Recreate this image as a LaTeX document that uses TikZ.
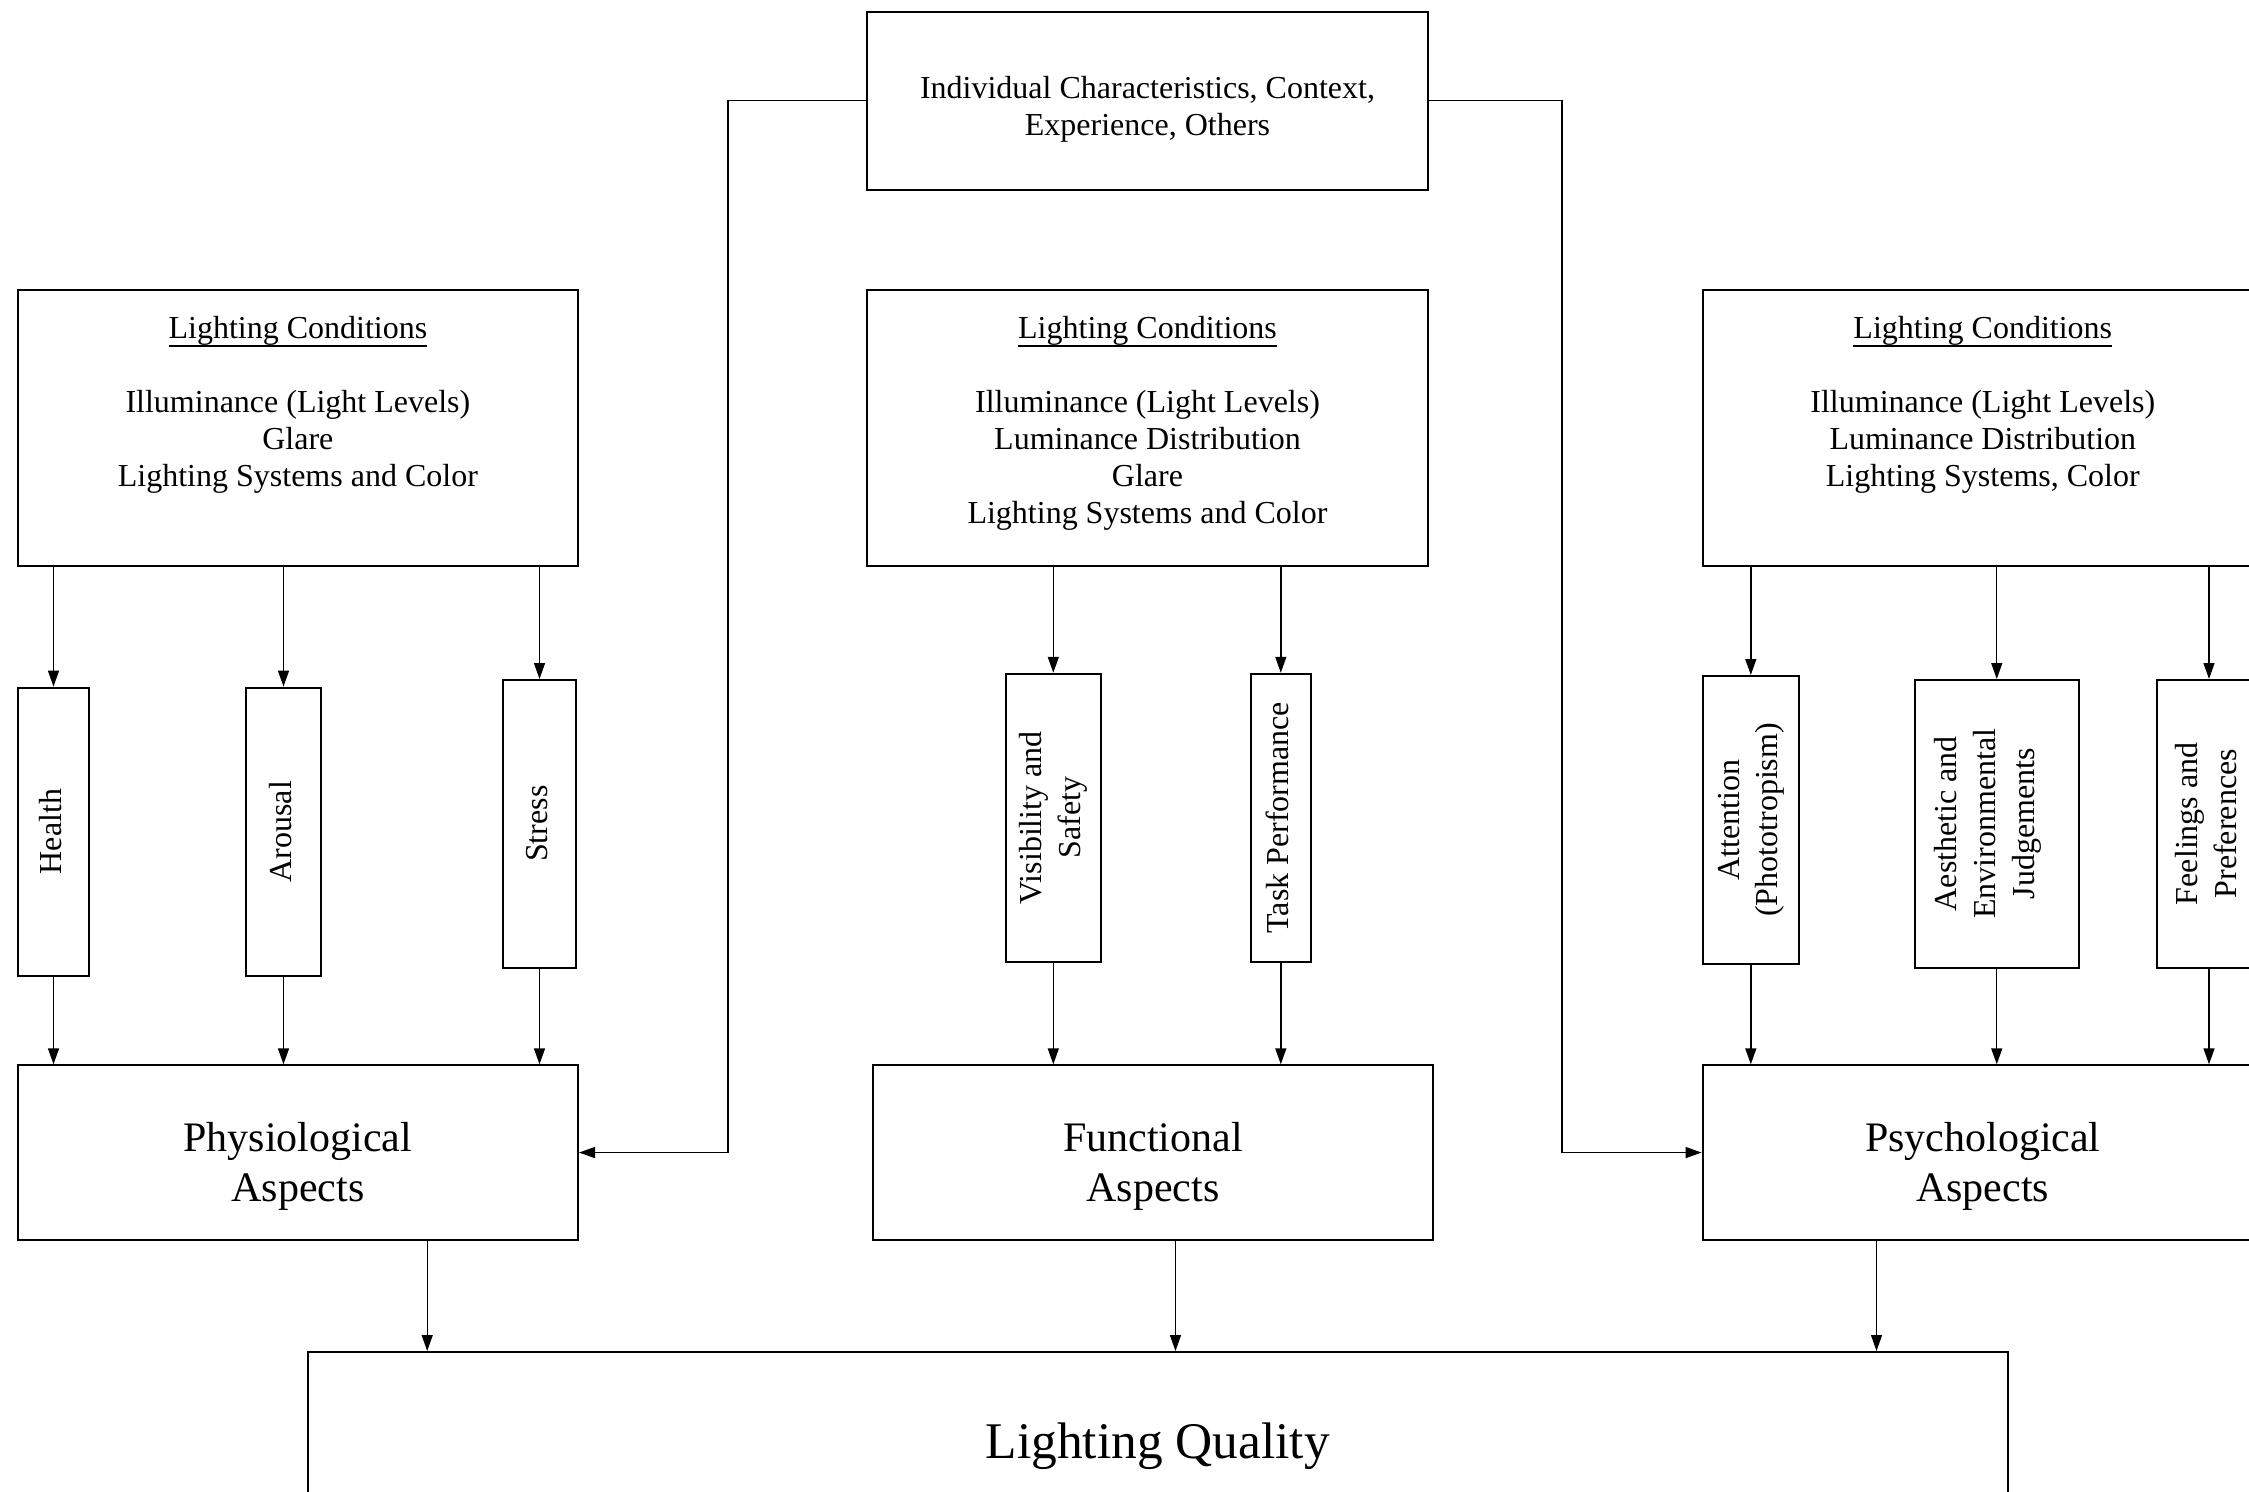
\documentclass[tikz,border=0pt]{standalone}
\usepackage{fontspec}
\setmainfont{Liberation Serif}
\usepackage{graphicx}
\usetikzlibrary{arrows.meta,calc}
\newsavebox\ulbox
\newcommand\uln[1]{\sbox\ulbox{#1}\rlap{\rule[-4.2pt]{\wd\ulbox}{0.8pt}}\usebox\ulbox}
\newcommand\vtxt[1]{\rotatebox{90}{\begin{tabular}{@{}c@{}}#1\end{tabular}}}
\begin{document}
\begin{tikzpicture}[x=0.5pt,y=-0.5pt,
  box/.style={draw, line width=1pt, inner sep=0pt, rectangle, anchor=north west},
  arr/.style={line width=0.7pt, -{Triangle[length=8pt,width=5.5pt]}},
  txt/.style={font=\fontsize{16}{18.5}\selectfont, align=center, inner sep=0pt},
  vt/.style={font=\fontsize{16}{19.3}\selectfont},
  big/.style={font=\fontsize{21}{25}\selectfont, align=center, inner sep=0pt},
  huge/.style={font=\fontsize{25.7}{30}\selectfont, align=center}]
\useasboundingbox (0,0) rectangle (2249,1492);
\clip (0,0) rectangle (2249,1492);

% top box
\node[box, minimum width=280.5pt, minimum height=88.95pt] (ind) at (866,10.7) {};
\node[txt] (indt) at ([yshift=-4.5pt]ind.center) {Individual Characteristics, Context,\\Experience, Others};

% lighting conditions boxes
\node[box, minimum width=280.1pt, minimum height=138pt] (lc1) at (16.8,289) {};
\node[box, minimum width=280.5pt, minimum height=138pt] (lc2) at (866,289) {};
\node[box, minimum width=280.2pt, minimum height=138pt] (lc3) at (1701.6,289) {};
\node[txt, anchor=north] (lc1t) at ([yshift=-13.5pt]lc1.north) {\uln{Lighting Conditions}\\[18.5pt]Illuminance (Light Levels)\\Glare\\Lighting Systems and Color};
\node[txt, anchor=north] (lc2t) at ([yshift=-13.5pt]lc2.north) {\uln{Lighting Conditions}\\[18.5pt]Illuminance (Light Levels)\\Luminance Distribution\\Glare\\Lighting Systems and Color};
\node[txt, anchor=north] (lc3t) at ([yshift=-13.5pt]lc3.north) {\uln{Lighting Conditions}\\[18.5pt]Illuminance (Light Levels)\\Luminance Distribution\\Lighting Systems, Color};

% vertical factor boxes
\node[box, vt, minimum width=35.5pt, minimum height=144pt] (health) at (17,686.6) {\vtxt{Health}};
\node[box, vt, minimum width=37.5pt, minimum height=144pt] (arousal) at (245,686.6) {\vtxt{Arousal}};
\node[box, vt, minimum width=36.5pt, minimum height=143.75pt] (stress) at (502,679) {\vtxt{Stress}};
\node[box, vt, minimum width=47.7pt, minimum height=143.95pt] (vis) at (1004.6,672.8) {\vtxt{Visibility and\\Safety}};
\node[box, vt, minimum width=29.8pt, minimum height=143.95pt] (task) at (1250,672.8) {\vtxt{Task Performance}};
\node[box, vt, minimum width=48.2pt, minimum height=144pt] (att) at (1701.6,675) {\vtxt{Attention\\(Phototropism)}};
\node[box, vt, minimum width=81.75pt, minimum height=143.75pt] (aes) at (1914,679) {\vtxt{Aesthetic and\\Environmental\\Judgements}\hspace*{9pt}};
\node[box, vt, minimum width=52pt, minimum height=143.75pt] (feel) at (2156,679) {\vtxt{Feelings and\\Preferences}};

% aspects boxes
\node[box, minimum width=280.1pt, minimum height=87.25pt] (phys) at (16.8,1064.3) {};
\node[box, minimum width=280pt, minimum height=87.25pt] (func) at (872,1064.3) {};
\node[box, minimum width=280.2pt, minimum height=87.25pt] (psych) at (1701.6,1064.3) {};
\node[big] (physt) at ([yshift=-7pt]phys.center) {Physiological\\Aspects};
\node[big] (funct) at ([yshift=-7pt]func.center) {Functional\\Aspects};
\node[big] (psycht) at ([yshift=-7pt]psych.center) {Psychological\\Aspects};

% lighting quality
\node[box, huge, minimum width=849.8pt, minimum height=94.5pt] (lq) at (307,1351) {Lighting Quality};

% arrows from lighting conditions to factors
\foreach \src/\dst in {lc1/health, lc1/arousal, lc1/stress, lc2/vis, lc2/task, lc3/att, lc3/aes, lc3/feel}{
  \draw[arr] (\dst.north |- \src.south) -- (\dst.north);
}
% arrows from factors to aspects
\foreach \src/\dst in {health/phys, arousal/phys, stress/phys, vis/func, task/func, att/psych, aes/psych, feel/psych}{
  \draw[arr] (\src.south) -- (\src.south |- \dst.north);
}

% side connectors from top box
\coordinate (jl) at (728,99);
\coordinate (jr) at (1562,99);
\draw[arr] (ind.west) -- (ind.west -| jl) |- (phys.east);
\draw[arr] (ind.east) -- (ind.east -| jr) |- (psych.west);

% arrows to lighting quality
\coordinate (p1) at ($(phys.south west)!0.73!(phys.south east)$);
\coordinate (p2) at ($(func.south west)!0.54!(func.south east)$);
\coordinate (p3) at ($(psych.south west)!0.311!(psych.south east)$);
\draw[arr] (p1) -- (p1 |- lq.north);
\draw[arr] (p2) -- (p2 |- lq.north);
\draw[arr] (p3) -- (p3 |- lq.north);
\end{tikzpicture}
\end{document}
